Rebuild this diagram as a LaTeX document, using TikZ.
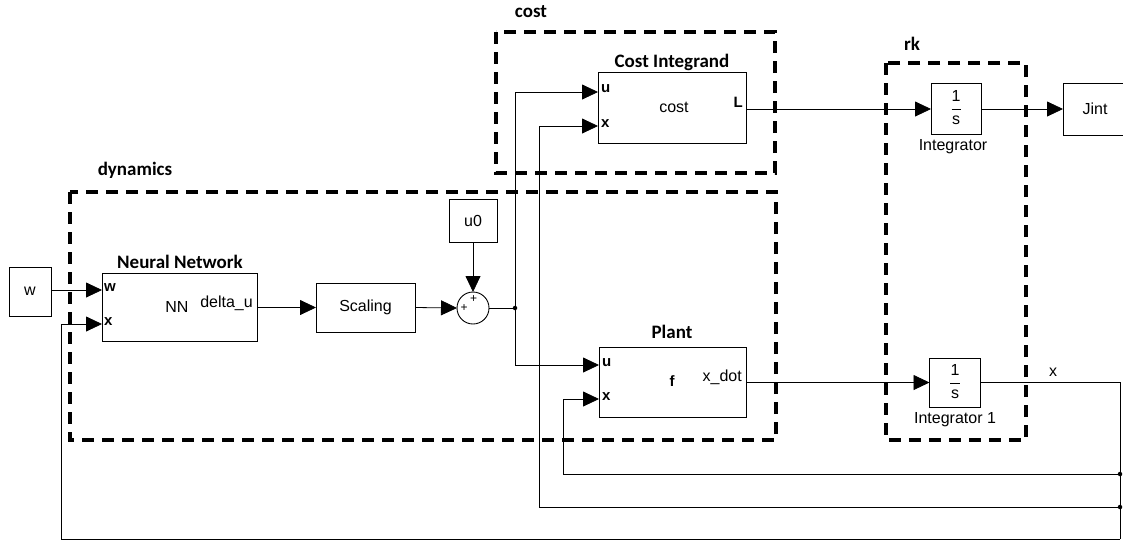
\documentclass[tikz,border=0pt]{standalone}
\usepackage{fontspec}
\setmainfont{Liberation Sans}
\newfontfamily\titlefont{Carlito}
\usetikzlibrary{arrows.meta,calc}
\tikzset{
  blk/.style={draw,line width=0.9pt,inner sep=0pt,outer sep=0pt,fill=white},
  wire/.style={line width=0.8pt},
  arr/.style={wire,-{Triangle[length=16pt,width=15pt]}},
  grp/.style={draw,line width=3.8pt,dash pattern=on 12pt off 8pt},
  ttl/.style={font=\titlefont\bfseries\fontsize{19}{21}\selectfont,inner sep=0pt},
  lbl/.style={font=\fontsize{16}{18}\selectfont,inner sep=0pt},
  port/.style={font=\bfseries\fontsize{15}{17}\selectfont,inner sep=0pt},
  pls/.style={font=\fontsize{12}{13}\selectfont,inner sep=0pt},
  jdot/.style={circle,fill,inner sep=0pt,minimum size=4.5pt},
}
\begin{document}
\begin{tikzpicture}[x=1pt,y=-1pt]
\useasboundingbox (0,0) rectangle (1123,542);
\clip (0,0) rectangle (1123,542);

% group boxes
\draw[grp] (70,192) rectangle (776,440);
\draw[grp] (496,32) rectangle (775,173);
\draw[grp] (886,63) rectangle (1026,440);
\node[ttl] (tdyn) at (135,170) {dynamics};
\node[ttl] (tcost) at (531,12) {cost};
\node[ttl] (trk) at (912,44) {rk};

% blocks
\node[blk,minimum width=42pt,minimum height=49pt] (w) at (30,291.5) {};
\node[lbl] (wt) at (30,291) {w};
\node[blk,minimum width=155pt,minimum height=68pt] (nn) at (179.5,307) {};
\node[ttl] (tnn) at (180,262) {Neural Network};
\node[lbl] (nnt) at (177,307) {NN};
\node[lbl,anchor=mid east] (nnd) at (253,305) {delta\_u};
\node[port,anchor=mid west] (nnpw) at (104,289) {w};
\node[port,anchor=mid west] (nnpx) at (104,323) {x};

\node[blk,minimum width=99pt,minimum height=49pt] (sc) at (365.5,307.5) {};
\node[lbl] (sct) at (365.5,307.5) {Scaling};

\node[blk,minimum width=48pt,minimum height=43pt] (u0) at (473,220.5) {};
\node[lbl] (u0t) at (473,220.5) {u0};

\node[blk,circle,minimum size=32pt] (sum) at (473,308) {};
\node[pls] (p1) at (473.5,299) {+};
\node[pls] (p2) at (464,308) {+};

\node[jdot] (br) at (515,308) {};

\node[blk,minimum width=148pt,minimum height=71pt] (cost) at (672,107.5) {};
\node[ttl] (tci) at (672,62) {Cost Integrand};
\node[lbl] (costt) at (674,107) {cost};
\node[port,anchor=mid west] (cpu) at (601,90) {u};
\node[port,anchor=mid west] (cpx) at (601,125) {x};
\node[port,anchor=mid east] (cpl) at (743,105) {L};

\node[blk,minimum width=147pt,minimum height=70pt] (pl) at (672.5,382) {};
\node[ttl] (tpl) at (672,332) {Plant};
\node[port] (plf) at (672,381) {f};
\node[lbl,anchor=mid east] (pld) at (742,379) {x\_dot};
\node[port,anchor=mid west] (plu) at (602,364) {u};
\node[port,anchor=mid west] (plx) at (602,398) {x};

\node[blk,minimum width=50pt,minimum height=51pt] (int) at (956,108.5) {};
\node[lbl] (i1a) at (956,96) {1};
\node[lbl] (i1b) at (956,120) {s};
\node[lbl] (tint) at (953,147) {Integrator};
\node[blk,minimum width=51pt,minimum height=49pt] (int2) at (955,382.5) {};
\node[lbl] (i2a) at (955,370) {1};
\node[lbl] (i2b) at (955,394) {s};
\node[lbl] (tint2) at (955,420) {Integrator 1};
\draw[line width=0.5pt] (951.5,109) -- (960.5,109);
\draw[line width=0.5pt] (950,383) -- (960,383);

\node[blk,minimum width=80pt,minimum height=52pt,anchor=west] (jint) at (1063,109) {};
\node[lbl] (jt) at (1095,109) {Jint};

% feedback junctions
\coordinate (xr) at (1120,382.5);
\node[jdot] (j1) at (1120,474) {};
\node[jdot] (j2) at (1120,507) {};
\coordinate (j3) at (1120,539);
\node[lbl] (xl) at (1053,372) {x};

% connectors
\draw[arr] (w.east |- 0,290) -- (nn.west |- 0,290);
\draw[arr] (j3) -- (61,539) -- (61,324) -- (nn.west |- 0,324);
\draw[arr] (nn.east |- 0,307.5) -- (sc.west |- 0,307.5);
\draw[arr] (sc.east) -- (sum.west);
\draw[arr] (u0.south) -- (sum.north);
\draw[wire] (sum.east) -- (br.center);
\draw[arr] (br.center) -- (515,92) -- (cost.west |- 0,92);
\draw[arr] (br.center) -- (515,365) -- (pl.west |- 0,365);
\draw[arr] (j2.center) -- (539,507) -- (539,126) -- (cost.west |- 0,126);
\draw[arr] (j1.center) -- (563,474) -- (563,399) -- (pl.west |- 0,399);
\draw[arr] (cost.east |- 0,109) -- (int.west |- 0,109);
\draw[arr] (int.east |- 0,109) -- (jint.west |- 0,109);
\draw[arr] (pl.east |- 0,382.5) -- (int2.west |- 0,382.5);
\draw[wire] (int2.east |- 0,382.5) -- (xr) -- (j3);
\end{tikzpicture}
\end{document}
